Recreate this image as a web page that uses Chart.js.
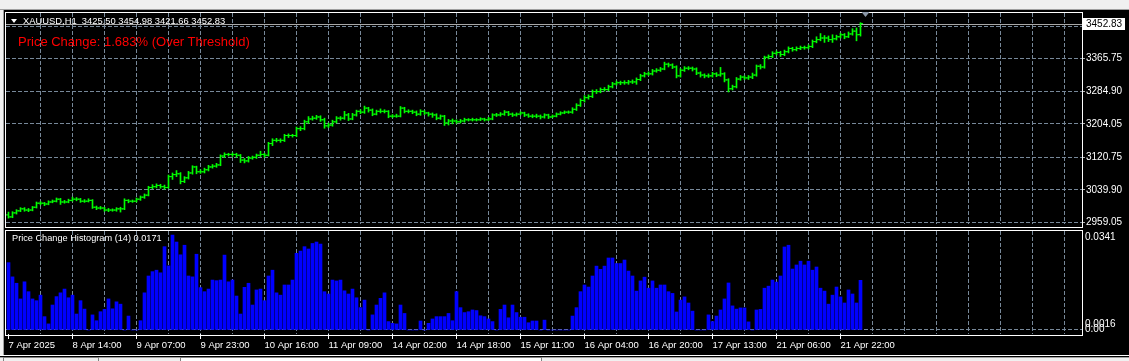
<!DOCTYPE html>
<html lang="en">
<head>
<meta charset="UTF-8">
<title>XAUUSD,H1</title>
<script src="https://cdn.jsdelivr.net/npm/chart.js"></script>
<style>
  body { margin: 0; width: 1129px; height: 361px; background: #000; overflow: hidden; position: relative;
         font-family: "Liberation Sans", Arial, sans-serif; }
  canvas { position: absolute; left: 0; }
  #priceCanvas { top: 0; }
  #histCanvas { top: 229px; }
  .chrome-top { position: absolute; left: 0; top: 0; width: 1129px; height: 9px; background: #f0f0f0; border-bottom: 1px solid #a0a0a0; }
  .chrome-left { position: absolute; left: 0; top: 10px; width: 3px; height: 346px; background: #f0f0f0; border-right: 1px solid #a0a0a0; }
  .chrome-bottom { position: absolute; left: 0; top: 357px; width: 1129px; height: 4px; background: #f0f0f0; border-top: 1px solid #a0a0a0; }
  .tab { position: absolute; top: 357px; height: 4px; border: 1px solid #808080; border-bottom: none; }
  .bottom-line { position: absolute; left: 0; top: 355px; width: 1129px; height: 1px; background: #fff; }
  .label { position: absolute; white-space: pre; }
  #header { left: 11px; top: 16px; color: #fff; font-size: 9.4px; line-height: 9.4px; }
  #header .tri { display: inline-block; width: 0; height: 0; border-left: 3px solid transparent; border-right: 3px solid transparent;
                 border-top: 4px solid #fff; margin-right: 6px; vertical-align: 1px; }
  #alert { left: 18px; top: 35px; color: #ff0000; font-size: 13px; line-height: 13px; }
  #histTitle { left: 12px; top: 234px; color: #fff; font-size: 9.2px; line-height: 9.2px; }
</style>
</head>
<body>
<div class="chrome-top"></div>
<div class="chrome-left"></div>
<canvas id="priceCanvas" width="1129" height="229"></canvas>
<canvas id="histCanvas" width="1129" height="127"></canvas>
<div class="bottom-line"></div>
<div class="chrome-bottom"></div>
<div class="tab" style="left:3px;width:94px;"></div>
<div class="tab" style="left:180px;width:360px;background:#fff;"></div>
<div id="header" class="label"><span class="tri"></span><span id="headerText"></span></div>
<div id="alert" class="label">Price Change: 1.683% (Over Threshold)</div>
<div id="histTitle" class="label"></div>
<script>
// ---- data (hourly bars, 7 Apr 2025 00:00 .. 22 Apr 2025 03:00) ----
const symbol = 'XAUUSD,H1';
const timeLabels = ['7 Apr 2025', '8 Apr 14:00', '9 Apr 07:00', '9 Apr 23:00', '10 Apr 16:00', '11 Apr 09:00',
    '14 Apr 02:00', '14 Apr 18:00', '15 Apr 11:00', '16 Apr 04:00', '16 Apr 20:00', '17 Apr 13:00',
    '21 Apr 06:00', '21 Apr 22:00'];
const priceTicks = [2959.05, 3039.90, 3120.75, 3204.05, 3284.90, 3365.75, 3446.60];
const histName = 'Price Change Histogram';
const histPeriod = 14;
const histTickValues = [0, 0.0016];
const alertText = 'Price Change: 1.683% (Over Threshold)';

const opens = [2978,2973,2983,2988,2993,2990,2990,2997,3007,3007,
    3005,3010,3012,3017,3010,3010,3014,3017,3017,3012,
    3012,3014,2997,2995,2995,2990,2990,2990,2993,2993,
    3014,3012,3012,3017,3022,3027,3046,3048,3051,3048,
    3046,3073,3078,3080,3061,3070,3082,3097,3085,3085,
    3090,3097,3099,3102,3124,3128,3128,3128,3126,3114,
    3112,3119,3121,3126,3128,3126,3155,3163,3163,3163,
    3175,3175,3175,3192,3192,3209,3216,3218,3221,3214,
    3199,3201,3209,3218,3218,3226,3216,3226,3235,3233,
    3243,3238,3228,3235,3235,3235,3223,3223,3223,3243,
    3235,3235,3233,3228,3235,3231,3228,3226,3218,3223,
    3206,3211,3211,3209,3211,3214,3214,3214,3214,3216,
    3214,3216,3226,3226,3228,3233,3228,3226,3228,3231,
    3226,3223,3223,3223,3221,3226,3221,3223,3228,3231,
    3233,3233,3240,3250,3262,3269,3272,3284,3284,3289,
    3289,3296,3303,3306,3306,3306,3308,3308,3314,3323,
    3328,3328,3335,3337,3340,3352,3350,3345,3323,3337,
    3342,3342,3340,3330,3325,3323,3323,3328,3325,3328,
    3313,3291,3296,3315,3320,3318,3320,3325,3347,3345,
    3369,3371,3379,3381,3376,3383,3391,3388,3391,3393,
    3393,3396,3408,3413,3417,3417,3413,3415,3420,3425,
    3420,3427,3434,3425.50];
const highs = [2985,2986,2991,2996,2996,2994,2999,3010,3011,3009,
    3013,3015,3020,3019,3014,3017,3022,3021,3019,3016,
    3018,3016,3000,2999,2997,2994,2993,2996,2997,3018,
    3016,3015,3020,3025,3030,3049,3053,3055,3054,3052,
    3077,3082,3088,3083,3073,3086,3100,3099,3090,3094,
    3101,3103,3106,3127,3132,3131,3132,3131,3128,3118,
    3123,3124,3129,3136,3131,3158,3167,3168,3167,3178,
    3179,3178,3196,3197,3213,3222,3223,3225,3224,3218,
    3206,3213,3222,3222,3235,3230,3230,3238,3239,3248,
    3245,3241,3238,3241,3239,3237,3227,3228,3247,3245,
    3239,3238,3236,3239,3237,3233,3231,3229,3226,3225,
    3215,3216,3214,3215,3218,3217,3218,3217,3219,3218,
    3220,3229,3230,3232,3237,3235,3231,3231,3234,3233,
    3229,3227,3228,3226,3229,3228,3226,3231,3234,3236,
    3236,3244,3254,3266,3274,3276,3288,3289,3293,3294,
    3300,3307,3310,3310,3311,3312,3313,3318,3327,3332,
    3333,3339,3341,3344,3357,3355,3353,3348,3341,3346,
    3346,3345,3343,3333,3328,3328,3332,3331,3344,3331,
    3316,3300,3319,3324,3323,3324,3330,3350,3351,3372,
    3375,3383,3385,3384,3387,3395,3394,3395,3397,3397,
    3400,3412,3420,3428,3423,3422,3425,3424,3429,3428,
    3432,3440,3442,3454.98];
const lows = [2970,2971,2980,2986,2987,2986,2988,2995,3003,3001,
    3003,3008,3010,3004,3007,3008,3012,3013,3009,3009,
    3010,2994,2991,2992,2987,2986,2987,2987,2985,2991,
    3008,3009,3010,3014,3019,3025,3043,3045,3044,3042,
    3044,3066,3073,3055,3058,3067,3079,3080,3081,3082,
    3087,3094,3096,3100,3120,3124,3123,3121,3108,3107,
    3109,3116,3118,3123,3121,3124,3150,3159,3158,3160,
    3170,3171,3172,3187,3189,3205,3213,3215,3210,3193,
    3195,3198,3206,3213,3215,3212,3214,3223,3229,3230,
    3233,3224,3226,3231,3231,3219,3219,3220,3221,3231,
    3231,3229,3224,3225,3227,3223,3220,3214,3215,3200,
    3201,3204,3205,3206,3208,3211,3211,3211,3212,3211,
    3212,3214,3222,3223,3225,3224,3222,3223,3226,3222,
    3220,3219,3219,3216,3218,3217,3219,3221,3226,3229,
    3230,3230,3237,3247,3258,3265,3269,3279,3281,3285,
    3286,3293,3300,3301,3302,3302,3304,3302,3311,3320,
    3324,3325,3332,3334,3338,3345,3341,3318,3320,3334,
    3338,3335,3326,3320,3318,3319,3320,3321,3322,3308,
    3283,3288,3293,3312,3314,3314,3316,3322,3340,3342,
    3365,3368,3375,3371,3373,3380,3384,3385,3388,3389,
    3390,3393,3405,3410,3406,3408,3406,3412,3417,3415,
    3418,3424,3410,3421.66];
const closes = [2973,2983,2988,2993,2990,2990,2997,3007,3007,3005,
    3010,3012,3017,3010,3010,3014,3017,3017,3012,3012,
    3014,2997,2995,2995,2990,2990,2990,2993,2993,3014,
    3012,3012,3017,3022,3027,3046,3048,3051,3048,3046,
    3073,3078,3080,3061,3070,3082,3097,3085,3085,3090,
    3097,3099,3102,3124,3128,3128,3128,3126,3114,3112,
    3119,3121,3126,3128,3126,3155,3163,3163,3163,3175,
    3175,3175,3192,3192,3209,3216,3218,3221,3214,3199,
    3201,3209,3218,3218,3226,3216,3226,3235,3233,3243,
    3238,3228,3235,3235,3235,3223,3223,3223,3243,3235,
    3235,3233,3228,3235,3231,3228,3226,3218,3223,3206,
    3211,3211,3209,3211,3214,3214,3214,3214,3216,3214,
    3216,3226,3226,3228,3233,3228,3226,3228,3231,3226,
    3223,3223,3223,3221,3226,3221,3223,3228,3231,3233,
    3233,3240,3250,3262,3269,3272,3284,3284,3289,3289,
    3296,3303,3306,3306,3306,3308,3308,3314,3323,3328,
    3328,3335,3337,3340,3352,3350,3345,3323,3337,3342,
    3342,3340,3330,3325,3323,3323,3328,3325,3328,3313,
    3291,3296,3315,3320,3318,3320,3325,3347,3345,3369,
    3371,3379,3381,3376,3383,3391,3388,3391,3393,3393,
    3396,3408,3413,3417,3417,3413,3415,3420,3425,3420,
    3427,3434,3425,3452.83];
const histValues = [0.0232,0.0183,0.0161,0.0107,0.0166,0.0132,0.0107,0.0101,0.0120,0.0046,
    0.0021,0.0086,0.0115,0.0128,0.0141,0.0111,0.0120,0.0055,0.0101,0.0072,
    0,0.0052,0.0032,0.0063,0.0071,0.0107,0.0073,0.0097,0.0089,0,
    0.0048,0,0,0.0032,0.0128,0.0186,0.0201,0.0206,0.0197,0.0287,
    0.0221,0.0327,0.0303,0.0259,0.0292,0.0186,0.0183,0.0261,0.0146,0.0132,
    0.0141,0.0172,0.0170,0.0172,0.0258,0.0166,0.0172,0.0117,0.0055,0.0147,
    0.0161,0.0086,0.0138,0.0141,0.0101,0.0186,0.0206,0.0128,0.0120,0.0155,
    0.0155,0.0172,0.0264,0.0272,0.0287,0.0279,0.0298,0.0303,0.0296,0.0132,
    0.0124,0.0172,0.0169,0.0172,0.0135,0.0124,0.0141,0.0111,0.0077,0.0103,
    0,0.0052,0.0086,0.0109,0.0128,0.0029,0.0023,0.0021,0.0086,0.0057,
    0,0,0,0.0031,0,0.0023,0.0038,0.0046,0.0046,0.0046,
    0.0057,0.0032,0.0132,0.0077,0.0060,0.0063,0.0069,0.0067,0.0049,0.0046,
    0.0038,0.0029,0,0.0071,0.0086,0.0042,0.0086,0.0060,0.0044,0.0044,
    0.0025,0.0031,0.0031,0,0.0034,0,0,0,0,0,
    0,0.0048,0.0077,0.0132,0.0155,0.0148,0.0186,0.0220,0.0209,0.0220,
    0.0248,0.0248,0.0229,0.0229,0.0241,0.0203,0.0186,0.0134,0.0169,0.0182,
    0.0144,0.0169,0.0144,0.0155,0.0155,0.0132,0.0126,0.0062,0.0103,0.0114,
    0.0093,0.0065,0,0,0,0.0052,0.0029,0.0048,0.0069,0.0107,
    0.0162,0.0083,0.0072,0.0076,0.0076,0.0028,0,0.0069,0.0071,0.0144,
    0.0151,0.0172,0.0165,0.0186,0.0286,0.0292,0.0210,0.0224,0.0237,0.0224,
    0.0237,0.0206,0.0217,0.0144,0.0134,0.0089,0.0120,0.0148,0.0114,0.0093,
    0.0138,0.0124,0.0093,0.0171];

// ---- layout / style ----
const gridColor = '#778899';
const barColor = '#00ff00';
const histColor = '#0000ff';
const labelEvery = 16;   // bars between time labels
const gridEvery = 8;     // bars between vertical grid lines
const xMin = -0.625, xMax = 268.375;   // 4 px per bar
const priceMin = 2955.4, priceMax = 3479.0;
const histMax = 0.0341, histMin = -0.00138;
const histTopLabelAt = histMax - 7.5 * (histMax - histMin) / 103;

Chart.defaults.font.family = '"Liberation Sans", Arial, sans-serif';
Chart.defaults.color = '#ffffff';

const last = closes.length - 1;
document.getElementById('headerText').textContent =
    symbol + '  ' + [opens[last], highs[last], lows[last], closes[last]].map(v => v.toFixed(2)).join(' ');
document.getElementById('alert').textContent = alertText;
document.getElementById('histTitle').textContent =
    histName + ' (' + histPeriod + ') ' + histValues[last].toFixed(4);

const transparent = 'rgba(0,0,0,0)';

function timeAxis(showLabels) {
    return {
        type: 'linear', min: xMin, max: xMax, offset: false,
        afterBuildTicks: s => {
            const t = [];
            for (let v = 0; v <= xMax; v += gridEvery) t.push({ value: v });
            s.ticks = t;
        },
        afterFit: s => { s.paddingLeft = 0; s.paddingRight = 0; s.height = showLabels ? 22 : 0; },
        grid: {
            offset: false,
            color: c => (c.tick && c.tick.value === 0) ? transparent : gridColor,
            drawTicks: showLabels, tickLength: 5, tickBorderDash: [],
            tickColor: c => (c.tick && c.tick.value % labelEvery === 0 && c.tick.value / labelEvery < timeLabels.length) ? '#ffffff' : transparent
        },
        border: { display: false, dash: [4, 2] },
        ticks: {
            display: showLabels, autoSkip: false, maxRotation: 0, minRotation: 0, align: 'start', padding: 1,
            color: '#ffffff', font: { size: 9.5 },
            callback: v => (v % labelEvery === 0 && v / labelEvery < timeLabels.length) ? timeLabels[v / labelEvery] : ''
        }
    };
}

const frame = {
    id: 'frame',
    afterDraw(chart, args, opts) {
        const ctx = chart.ctx;
        ctx.save();
        ctx.strokeStyle = '#ffffff';
        ctx.lineWidth = 1;
        ctx.strokeRect(5.5, opts.top + 0.5, 1077, opts.height);
        ctx.restore();
    }
};

const priceMarks = {
    id: 'priceMarks',
    beforeDatasetsDraw(chart) {
        const { ctx, chartArea, scales } = chart;
        const y = Math.round(scales.y.getPixelForValue(closes[last])) + 0.5;
        ctx.save();
        ctx.strokeStyle = '#a8a8a8';
        ctx.lineWidth = 1;
        ctx.beginPath();
        ctx.moveTo(chartArea.left, y);
        ctx.lineTo(chartArea.right, y);
        ctx.stroke();
        ctx.restore();
    },
    afterDraw(chart) {
        const { ctx, chartArea, scales } = chart;
        const y = Math.round(scales.y.getPixelForValue(closes[last]));
        ctx.save();
        ctx.fillStyle = '#ffffff';
        ctx.fillRect(chartArea.right + 1, y - 6, 42, 12);
        ctx.fillStyle = '#000000';
        ctx.font = '10px "Liberation Sans", Arial, sans-serif';
        ctx.textBaseline = 'middle';
        ctx.fillText(closes[last].toFixed(2), chartArea.right + 4, y + 0.5);
        // chart shift marker
        const sx = scales.x.getPixelForValue(last + 1.25);
        ctx.fillStyle = '#8a96a6';
        ctx.beginPath();
        ctx.moveTo(sx - 4, 12);
        ctx.lineTo(sx + 4, 12);
        ctx.lineTo(sx, 17);
        ctx.closePath();
        ctx.fill();
        ctx.restore();
    }
};

new Chart(document.getElementById('priceCanvas'), {
    type: 'bar',
    data: {
        datasets: [
            {
                label: 'range',
                data: closes.map((c, i) => ({ x: i, y: [lows[i], highs[i]] })),
                backgroundColor: barColor,
                borderWidth: 0,
                barThickness: 1
            },
            {
                type: 'scatter',
                label: 'open',
                data: opens.map((o, i) => ({ x: i - 0.375, y: o })),
                pointStyle: 'line', pointRadius: 1, pointBorderWidth: 1,
                borderColor: barColor, backgroundColor: barColor, showLine: false
            },
            {
                type: 'scatter',
                label: 'close',
                data: closes.map((c, i) => ({ x: i + 0.375, y: c })),
                pointStyle: 'line', pointRadius: 1, pointBorderWidth: 1,
                borderColor: barColor, backgroundColor: barColor, showLine: false
            }
        ]
    },
    options: {
        responsive: false, animation: false, devicePixelRatio: 1,
        layout: { padding: { top: 13, left: 6, right: 0, bottom: 2 } },
        plugins: { legend: { display: false }, tooltip: { enabled: false }, frame: { top: 12, height: 215 } },
        scales: {
            x: timeAxis(false),
            y: {
                type: 'linear', position: 'right', min: priceMin, max: priceMax, beginAtZero: false,
                afterBuildTicks: s => { s.ticks = priceTicks.map(v => ({ value: v })); },
                afterFit: s => { s.width = 47; s.paddingTop = 0; s.paddingBottom = 0; },
                grid: { color: gridColor, drawTicks: true, tickLength: 3, tickColor: '#b0b0b0', tickBorderDash: [] },
                border: { display: false, dash: [4, 2] },
                ticks: {
                    autoSkip: false, padding: 1, color: '#ffffff', font: { size: 10 },
                    callback: v => Math.abs(v - closes[last]) < 10 ? '' : v.toFixed(2)
                }
            }
        }
    },
    plugins: [frame, priceMarks]
});

new Chart(document.getElementById('histCanvas'), {
    type: 'bar',
    data: {
        datasets: [{
            label: histName,
            data: histValues.map((v, i) => ({ x: i, y: v })),
            backgroundColor: histColor,
            borderWidth: 0,
            barThickness: 3
        }]
    },
    options: {
        responsive: false, animation: false, devicePixelRatio: 1,
        layout: { padding: { top: 2, left: 6, right: 0, bottom: 0 } },
        plugins: { legend: { display: false }, tooltip: { enabled: false }, frame: { top: 1, height: 105 } },
        scales: {
            x: timeAxis(true),
            y: {
                type: 'linear', position: 'right', min: histMin, max: histMax,
                afterBuildTicks: s => { s.ticks = histTickValues.concat([histTopLabelAt]).map(v => ({ value: v })); },
                afterFit: s => { s.width = 47; s.paddingTop = 0; s.paddingBottom = 0; },
                grid: { color: c => (c.tick && c.tick.value === 0) ? gridColor : transparent, drawTicks: false },
                border: { display: false, dash: [4, 2] },
                ticks: {
                    autoSkip: false, padding: 3, labelOffset: -1, color: '#ffffff', font: { size: 10 },
                    callback: v => v === 0 ? '0.00' : (v === histTopLabelAt ? histMax.toFixed(4) : v.toFixed(4))
                }
            }
        }
    },
    plugins: [frame]
});
</script>
</body>
</html>
